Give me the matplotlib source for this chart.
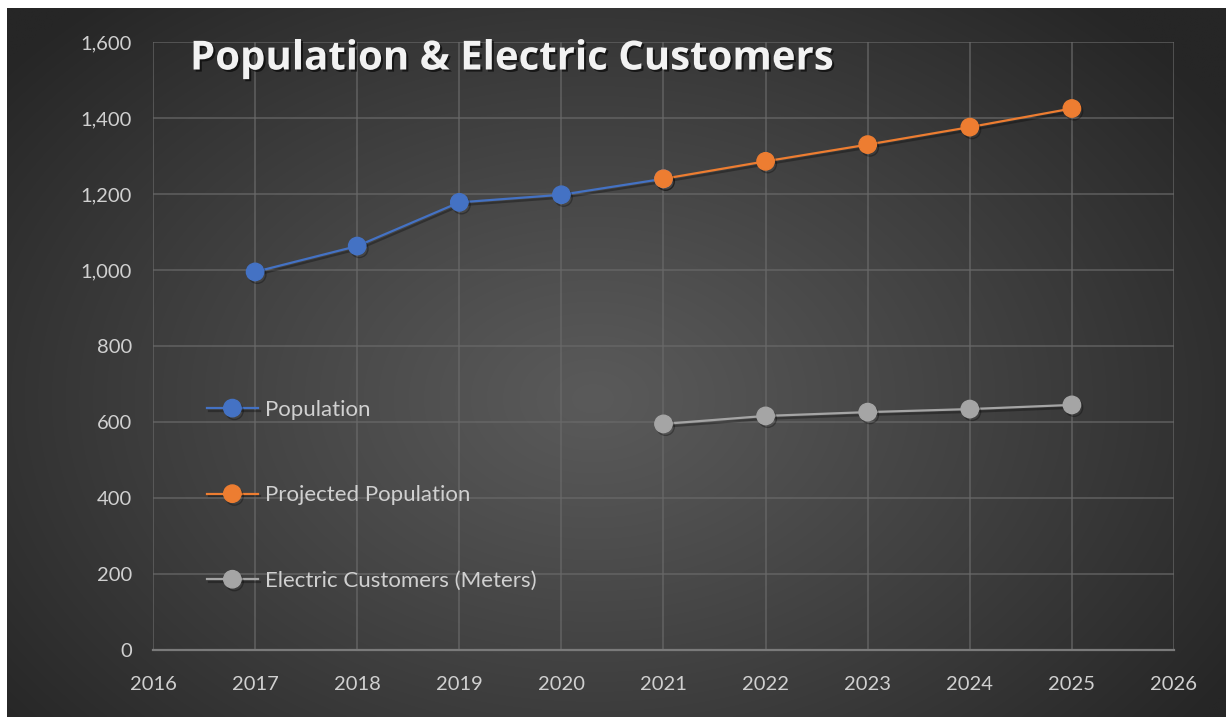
import numpy as np
import matplotlib
matplotlib.use("Agg")
import matplotlib.pyplot as plt
import matplotlib.patheffects as pe

years_pop = [2017, 2018, 2019, 2020, 2021]
population = [995, 1063, 1178, 1198, 1240]
years_proj = [2021, 2022, 2023, 2024, 2025]
projected = [1240, 1286, 1330, 1376, 1425]
years_elec = [2021, 2022, 2023, 2024, 2025]
electric = [595, 616, 626, 634, 645]

title = "Population & Electric Customers"
labels = ["Population", "Projected Population", "Electric Customers (Meters)"]
colors = ["#4472C4", "#ED7D31", "#A5A5A5"]

plt.rcParams['font.family'] = ['Lato', 'DejaVu Sans']

W, H = 1226, 717
fig = plt.figure(figsize=(W / 100, H / 100), dpi=100)
fig.patch.set_facecolor("white")

# background gradient panel
bg = fig.add_axes([7 / W, 0, 1 - 7 / W, 1 - 8 / H])
bg.set_axis_off()
ny, nx = 400, 700
yy, xx = np.mgrid[0:ny, 0:nx]
cx, cy = nx * 0.48, ny * 0.55
r = np.sqrt(((xx - cx) / (nx * 0.62)) ** 2 + ((yy - cy) / (ny * 0.75)) ** 2)
r = np.clip(r, 0, 1)
lo, hi = 0x26 / 255, 0x5a / 255
val = hi - (hi - lo) * r ** 1.1
img = np.dstack([val, val, val])
bg.imshow(img, aspect='auto', extent=[0, 1, 0, 1], interpolation='bilinear')
bg.set_xlim(0, 1)
bg.set_ylim(0, 1)

ax = fig.add_axes([153 / W, 1 - 650 / H, (1174 - 153) / W, (650 - 42) / H])
ax.patch.set_alpha(0)

shadow = [pe.SimpleLineShadow(offset=(1.5, -2), shadow_color='black', alpha=0.3), pe.Normal()]

for xs, ys, c, lab in zip([years_pop, years_proj, years_elec],
                          [population, projected, electric], colors, labels):
    ax.plot(xs, ys, color=c, lw=1.6, marker='o', markersize=12.5,
            markerfacecolor=c, markeredgecolor=c, label=lab, zorder=3,
            path_effects=shadow)

ax.set_xlim(2016, 2026)
ax.set_ylim(0, 1600)
ax.set_xticks(range(2016, 2027))
ax.set_yticks(range(0, 1601, 200))
ax.set_yticklabels([f"{v:,}" for v in range(0, 1601, 200)])
ax.grid(True, color="#6a6a6a", lw=1.1, alpha=0.8)
ax.set_axisbelow(True)
for s in ['top', 'right', 'left']:
    ax.spines[s].set_visible(False)
ax.spines['bottom'].set_color('#7a7a7a')
ax.spines['bottom'].set_linewidth(1.6)
ax.tick_params(length=0, labelsize=14.5, colors='#d0d0d0')
ax.tick_params(axis='x', pad=19)
ax.tick_params(axis='y', pad=15)

leg = ax.legend(loc='upper left', bbox_to_anchor=(0.044, 0.426), frameon=False,
                fontsize=16, labelspacing=2.95, handlelength=2.3, handletextpad=0.3,
                borderaxespad=0)
for t in leg.get_texts():
    t.set_color('#d0d0d0')

fig.text(190 / W, 1 - 59 / H, title, fontsize=28.9, fontweight='bold', color='#f2f2f2',
         va='center', ha='left', family=['Open Sans', 'DejaVu Sans'],
         path_effects=[pe.withSimplePatchShadow(offset=(1.5, -1.5), shadow_rgbFace='black', alpha=0.6)])

fig.savefig("out.png", dpi=100, facecolor=fig.get_facecolor())
